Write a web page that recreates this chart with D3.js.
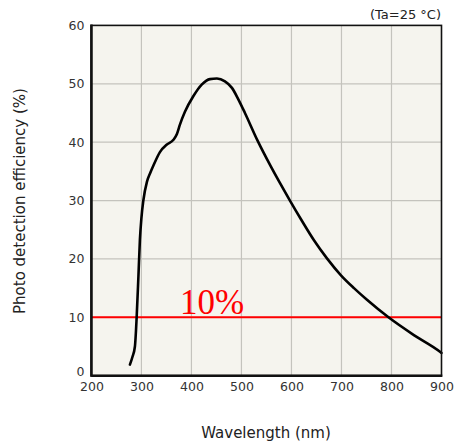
<!DOCTYPE html>
<html><head><meta charset="utf-8">
<script src="https://cdn.jsdelivr.net/npm/d3@7"></script>
<style>body{margin:0;background:#fff}svg{display:block}</style>
</head><body>
<svg id="c" width="460" height="444"></svg>
<script>
const wavelengths = [277, 282, 287, 290.5, 294, 297, 300, 304, 311, 318, 324, 337, 351, 364, 371, 377, 387, 404, 421, 437, 451, 467, 481, 494, 507, 532, 559, 597, 619, 645, 671, 699, 725, 751, 794, 844, 897, 900];
const efficiency  = [1.9, 3.2, 5, 10, 17, 23.3, 27, 30.1, 33.2, 34.8, 36.0, 38.3, 39.6, 40.4, 41.4, 43.0, 45.2, 47.9, 49.9, 50.8, 50.9, 50.4, 49.3, 47.3, 45, 40.3, 35.8, 30, 26.8, 23.2, 20.1, 17.2, 15, 13, 10, 7, 4.1, 3.9];
const xTicks = [200, 300, 400, 500, 600, 700, 800, 900];
const yTicks = [0, 10, 20, 30, 40, 50, 60];
const threshold = 10;
const thresholdLabel = "10%";
const xTitle = "Wavelength (nm)";
const yTitle = "Photo detection efficiency (%)";
const note = "(Ta=25 °C)";

const svg = d3.select("#c");
const L = 91.4, R = 441.5, T = 25.4, B = 375.7;
const x = d3.scaleLinear().domain([200, 900]).range([L, R]);
const y = d3.scaleLinear().domain([0, 60]).range([B, T]);

svg.append("rect").attr("x", L).attr("y", T).attr("width", R - L).attr("height", B - T).attr("fill", "#f5f4ee");

// grid
svg.append("g").selectAll("line").data(xTicks.slice(1, -1)).join("line")
  .attr("x1", d => x(d)).attr("x2", d => x(d)).attr("y1", T).attr("y2", B)
  .attr("stroke", "#c4c3bd").attr("stroke-width", 1.2);
svg.append("g").selectAll("line").data(yTicks.slice(1, -1)).join("line")
  .attr("x1", L).attr("x2", R).attr("y1", d => y(d)).attr("y2", d => y(d))
  .attr("stroke", "#c4c3bd").attr("stroke-width", 1.2);

// threshold line
svg.append("line").attr("x1", L).attr("x2", R).attr("y1", y(threshold)).attr("y2", y(threshold))
  .attr("stroke", "#ff0000").attr("stroke-width", 2);
svg.append("text").attr("x", 212).attr("y", y(threshold) - 3).attr("text-anchor", "middle")
  .attr("font-family", "Liberation Serif, serif").attr("font-size", 35).attr("fill", "#ff0000").text(thresholdLabel);

// curve
const data = wavelengths.map((w, i) => ({w, v: efficiency[i]}));
svg.append("path").datum(data)
  .attr("d", d3.line().x(d => x(d.w)).y(d => y(d.v)).curve(d3.curveMonotoneX))
  .attr("fill", "none").attr("stroke", "#000").attr("stroke-width", 2.6).attr("stroke-linecap", "round");

// frame
svg.append("rect").attr("x", L).attr("y", T).attr("width", R - L).attr("height", B - T)
  .attr("fill", "none").attr("stroke", "#111").attr("stroke-width", 1.6);
svg.append("line").attr("x1", L).attr("x2", L).attr("y1", T - 0.8).attr("y2", B + 1).attr("stroke", "#111").attr("stroke-width", 2.6);
svg.append("line").attr("x1", L).attr("x2", R + 0.8).attr("y1", B).attr("y2", B).attr("stroke", "#111").attr("stroke-width", 2.6);

// axes (labels only)
const xAxis = svg.append("g").attr("transform", `translate(0,${B})`)
  .call(d3.axisBottom(x).tickValues(xTicks).tickSize(0).tickPadding(6));
const yAxis = svg.append("g").attr("transform", `translate(${L},0)`)
  .call(d3.axisLeft(y).tickValues(yTicks).tickSize(0).tickPadding(7));
[xAxis, yAxis].forEach(a => {
  a.select(".domain").remove();
  a.selectAll("text").attr("font-family", "DejaVu Sans, Verdana, sans-serif").attr("font-size", 12.5).attr("fill", "#333");
});
yAxis.selectAll(".tick").filter(d => d === 0).select("text").attr("y", -4);

svg.append("text").attr("x", 266).attr("y", 438).attr("text-anchor", "middle")
  .attr("font-family", "DejaVu Sans, Verdana, sans-serif").attr("font-size", 15).attr("fill", "#222").text(xTitle);
svg.append("text").attr("transform", "translate(25,201) rotate(-90)").attr("text-anchor", "middle")
  .attr("font-family", "DejaVu Sans, Verdana, sans-serif").attr("font-size", 15).attr("fill", "#222").text(yTitle);
svg.append("text").attr("x", 441).attr("y", 19).attr("text-anchor", "end")
  .attr("font-family", "DejaVu Sans, Verdana, sans-serif").attr("font-size", 13).attr("fill", "#222").text(note);
</script>
</body></html>
